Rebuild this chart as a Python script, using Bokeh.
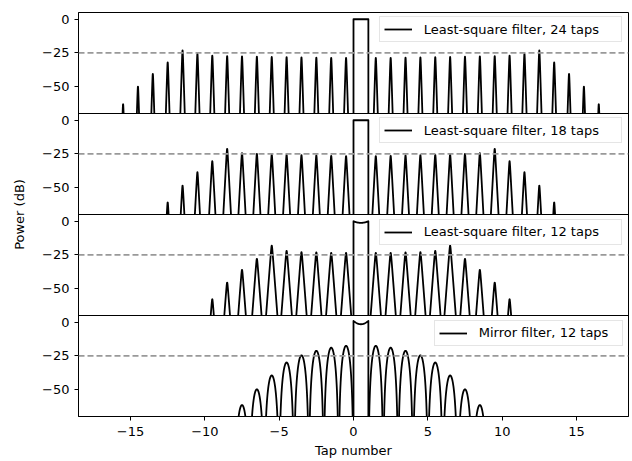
import numpy as np
from bokeh.plotting import figure
from bokeh.models import FixedTicker, Span, Legend, LegendItem
from bokeh.embed import file_html
from bokeh.resources import INLINE

# ---- data ----
# side-lobe peak levels (dB) by distance k from the pass band:
# left lobe centred at -0.5-k, right lobe centred at 1.5+k
ls24_peaks = [-28.6, -28.6, -28.5, -28.3, -28.1, -28.0, -27.8, -27.6, -27.3, -26.9,
              -25.6, -23.1, -32.0, -40.5, -50.0, -63.0]
ls18_peaks = [-26.6, -26.4, -26.1, -25.9, -25.6, -25.4, -24.9, -24.4, -21.1, -30.4,
              -38.6, -48.5, -61.0]
ls12_peaks = [-23.4, -23.4, -23.1, -22.9, -21.9, -18.1, -27.8, -36.0, -45.5, -57.9]
mir12_peaks = [-17.5, -18.9, -21.2, -24.6, -29.9, -39.5, -49.8, -61.5]
# pass band (0..1) level at its edges and at its centre
pass_edge = [0.0, 0.0, 0.0, 1.0]
pass_mid = [0.0, 0.0, -1.2, -1.5]
series_labels = ["Least-square filter, 24 taps", "Least-square filter, 18 taps",
                 "Least-square filter, 12 taps", "Mirror filter, 12 taps"]
threshold_db = -25
x_ticks = [-15, -10, -5, 0, 5, 10, 15]
y_ticks_db = [0, -25, -50]

all_peaks = [ls24_peaks, ls18_peaks, ls12_peaks, mir12_peaks]
shapes = [("tri", (360.0, 0.02)), ("tri", (205.0, 0.02)), ("tri", (145.0, 0.025)), ("arc", 3.5)]

BOTTOM, TOP = -70.0, 5.0
SPAN = TOP - BOTTOM


def lobe(c, peak, kind, prm, n=60):
    D = peak - BOTTOM
    if kind == "tri":
        K, e = prm
        dc = np.sqrt((D / K + e) ** 2 - e ** 2)
        d = np.linspace(-dc, dc, n)
        y = peak - K * (np.sqrt(d ** 2 + e ** 2) - e)
    else:
        A = prm
        dc = np.arccos(10 ** (-D / (20 * A))) / np.pi
        d = np.linspace(-dc, dc, n)
        y = peak + 20 * A * np.log10(np.cos(np.pi * d))
    y = np.maximum(y, BOTTOM)
    return list(c + d), list(y)


p = figure(width=630, height=460, x_range=(-18.5, 18.5), y_range=(0, 4 * SPAN),
           output_backend="svg", toolbar_location=None,
           min_border_left=78, min_border_right=2, min_border_top=12, min_border_bottom=43)
p.xgrid.visible = False
p.ygrid.visible = False
p.outline_line_color = "black"
p.outline_line_width = 1
p.background_fill_color = "white"
p.border_fill_color = "white"

frame_h = 460.0 - 12 - 43
panel_h = frame_h / 4

y_ticks = []
y_over = {}
for i, peaks in enumerate(all_peaks):
    off = (3 - i) * SPAN - BOTTOM
    kind, prm = shapes[i]
    xs, ys = [], []
    for k, pk in enumerate(peaks):
        for c in (-0.5 - k, 1.5 + k):
            lx, ly = lobe(c, pk, kind, prm)
            xs.append(lx)
            ys.append([v + off for v in ly])
    # pass band
    px = np.linspace(0, 1, 41)
    py = pass_mid[i] + (pass_edge[i] - pass_mid[i]) * (2 * (px - 0.5)) ** 2
    xs.append([0.0] + list(px) + [1.0])
    ys.append([BOTTOM + off] + list(py + off) + [BOTTOM + off])
    r = p.multi_line(xs, ys, line_color="black", line_width=1.8, line_join="round")

    p.add_layout(Span(location=threshold_db + off, dimension="width", line_color="#999999",
                      line_dash="6 3", line_width=1.6))
    if i > 0:
        p.add_layout(Span(location=(4 - i) * SPAN, dimension="width", line_color="black",
                          line_width=1))
    for t in y_ticks_db:
        v = int(round(t + off))
        y_ticks.append(v)
        y_over[v] = str(t).replace("-", "\u2212")

    mirror = i == 3
    lw = 139 if mirror else 193
    left = 355.7 if mirror else 300.7
    top = frame_h - i * panel_h - 6.7
    leg = Legend(items=[LegendItem(label=series_labels[i], renderers=[r])],
                 location=(left, top - 24.3),
                 label_text_font="DejaVu Sans", label_text_font_size="13px",
                 label_text_color="black",
                 border_line_color="#cccccc", border_line_width=1,
                 background_fill_color="white", background_fill_alpha=0.85,
                 padding=4, margin=0, spacing=0, glyph_width=28, glyph_height=16,
                 label_standoff=12, label_width=lw, label_height=16)
    p.add_layout(leg)

p.xaxis.ticker = FixedTicker(ticks=x_ticks)
p.xaxis.major_label_overrides = {t: str(t).replace("-", "\u2212") for t in x_ticks}
p.yaxis.ticker = FixedTicker(ticks=sorted(y_ticks))
p.yaxis.major_label_overrides = y_over

for ax in (p.xaxis[0], p.yaxis[0]):
    ax.minor_tick_line_color = None
    ax.major_tick_in = 0
    ax.major_tick_out = 4
    ax.axis_line_color = "black"
    ax.major_tick_line_color = "black"
    ax.major_label_text_font = "DejaVu Sans"
    ax.major_label_text_font_size = "13px"
    ax.major_label_text_color = "black"
    ax.axis_label_text_font = "DejaVu Sans"
    ax.axis_label_text_font_size = "13px"
    ax.axis_label_text_font_style = "normal"
    ax.axis_label_text_color = "black"
p.xaxis.axis_label = "Tap number"
p.yaxis.axis_label = "Power (dB)"
p.xaxis.major_label_standoff = 6
p.xaxis.axis_label_standoff = 4
p.yaxis.major_label_standoff = 5
p.yaxis.axis_label_standoff = 12

open("out.html", "w").write(file_html(p, INLINE))
